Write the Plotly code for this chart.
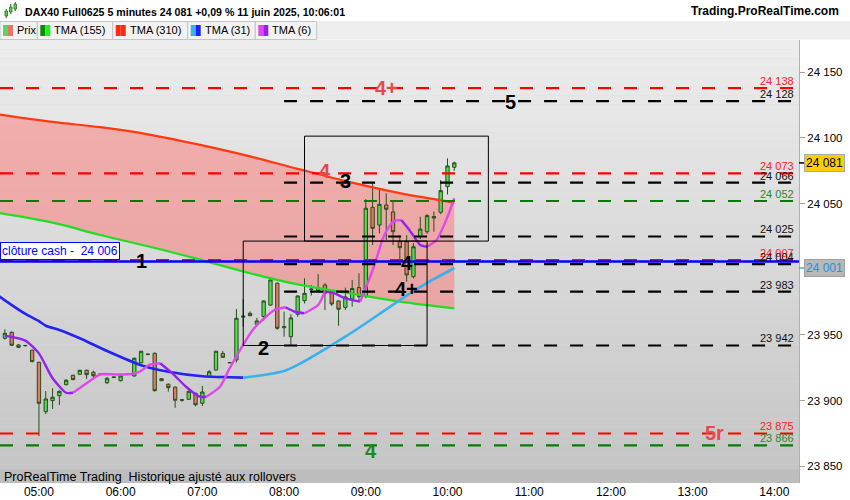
import plotly.graph_objects as go
import pandas as pd

# ---------------- data ----------------
START = "2025-06-11 04:35"
DAY = "2025-06-11 "

opens = [23947.5, 23952.0, 23942.4, 23941.8, 23938.4, 23929.2, 23891.6, 23900.0, 23903.8, 23912.2,
         23919.3, 23920.1, 23923.1, 23921.6, 23919.8, 23913.7, 23917.6, 23915.2, 23919.9, 23918.8,
         23928.9, 23935.1, 23936.1, 23916.7, 23912.5, 23910.3, 23900.7, 23901.0, 23905.6, 23898.0,
         23918.3, 23923.3, 23936.0, 23928.8, 23931.0, 23963.6, 23966.5, 23958.2, 23964.0, 23972.8,
         23989.4, 23955.5, 23948.7, 23965.8, 23976.1, 23984.5, 23984.0, 23988.1, 23983.0, 23975.9,
         23971.0, 23977.4, 23986.1, 23979.2, 24047.2, 24033.7, 24049.0, 24043.7, 24021.0, 24021.0,
         23994.4, 24024.8, 24028.6, 24039.0, 24043.4, 24062.9, 24077.7]
highs = [23954.3, 23952.8, 23943.0, 23942.5, 23938.8, 23929.6, 23907.3, 23909.4, 23907.8, 23916.5,
         23919.7, 23923.5, 23923.6, 23922.8, 23921.0, 23918.0, 23918.2, 23919.2, 23920.4, 23932.8,
         23938.0, 23935.6, 23936.6, 23917.2, 23913.0, 23910.8, 23901.2, 23907.6, 23906.0, 23911.2,
         23923.3, 23938.0, 23937.8, 23929.3, 23969.8, 23977.2, 23968.0, 23963.0, 23976.4, 23992.4,
         23990.0, 23967.8, 23965.8, 23980.2, 23993.2, 23988.0, 23996.5, 23989.4, 23984.0, 23976.3,
         23986.0, 23991.9, 23997.0, 24053.5, 24065.5, 24061.7, 24057.9, 24052.8, 24026.0, 24026.0,
         24020.0, 24040.0, 24042.0, 24044.0, 24068.0, 24084.5, 24082.0]
lows = [23946.5, 23941.5, 23940.0, 23941.3, 23929.2, 23873.0, 23889.8, 23893.7, 23896.7, 23911.6,
        23915.6, 23919.7, 23916.5, 23916.3, 23919.4, 23912.6, 23917.4, 23914.6, 23919.7, 23918.2,
        23928.5, 23934.9, 23907.0, 23914.8, 23906.9, 23894.6, 23899.2, 23900.6, 23895.6, 23895.9,
        23917.8, 23923.0, 23932.6, 23928.6, 23929.0, 23956.3, 23964.2, 23957.5, 23961.0, 23972.2,
        23954.0, 23948.7, 23942.4, 23964.0, 23974.0, 23980.0, 23983.0, 23969.0, 23972.0, 23957.0,
        23969.0, 23971.6, 23975.4, 23978.0, 24018.5, 24027.4, 24022.3, 24018.5, 24004.0, 23990.6,
        23993.0, 24023.0, 24027.0, 24028.6, 24042.0, 24057.0, 24075.0]
closes = [23951.3, 23942.2, 23940.6, 23942.0, 23929.7, 23898.0, 23901.3, 23902.6, 23907.1, 23915.5,
          23916.0, 23923.1, 23919.8, 23919.0, 23920.2, 23917.0, 23918.0, 23918.8, 23920.2, 23932.3,
          23937.6, 23935.4, 23907.6, 23915.2, 23909.9, 23900.3, 23900.4, 23907.1, 23896.9, 23906.6,
          23922.0, 23937.6, 23933.0, 23929.0, 23962.7, 23964.3, 23964.7, 23960.7, 23975.9, 23991.9,
          23955.1, 23956.3, 23963.0, 23979.7, 23981.7, 23985.0, 23986.0, 23981.8, 23973.6, 23969.6,
          23979.0, 23985.4, 23979.2, 24046.5, 24031.2, 24049.5, 24045.7, 24028.6, 24016.5, 23995.7,
          24017.2, 24030.6, 24040.9, 24040.2, 24059.9, 24078.7, 24081.0]

tma155_t = ["04:30", "05:10", "05:45", "06:20", "06:55", "07:35", "08:10", "08:50", "09:25", "10:05"]
tma155_v = [24043.0, 24035.5, 24026.1, 24017.6, 24008.3, 23997.0, 23988.5, 23981.4, 23975.4, 23970.3]
tma310_t = ["04:30", "05:10", "05:45", "06:20", "06:55", "07:35", "08:10", "08:50", "09:25", "10:05"]
tma310_v = [24118.0, 24112.2, 24108.2, 24102.8, 24095.5, 24086.0, 24076.5, 24066.0, 24058.0, 24050.8]
tma31_t = ["04:30", "04:35", "04:50", "05:00", "05:05", "05:15", "05:30", "05:50", "06:15", "06:35",
           "07:00", "07:20", "07:30", "07:45", "08:00", "08:10", "08:45", "09:00", "09:25", "09:45", "10:05"]
tma31_v = [23980.0, 23976.3, 23966.0, 23960.5, 23957.0, 23953.8, 23947.5, 23937.8, 23927.0, 23922.0,
           23918.6, 23917.8, 23917.5, 23919.6, 23922.6, 23927.2, 23948.7, 23958.9, 23976.6, 23989.6, 24001.0]
tma6_t = ["04:35", "04:50", "05:00", "05:10", "05:20", "05:25", "05:35", "05:45", "05:55", "06:05",
          "06:14", "06:21", "06:29", "06:38", "06:48", "06:58", "07:03", "07:13", "07:20", "07:38",
          "07:53", "08:01", "08:08", "08:15", "08:25", "08:30", "08:37", "08:45", "08:56", "09:06",
          "09:13", "09:20", "09:26", "09:32", "09:40", "09:45", "09:52", "10:00", "10:05"]
tma6_v = [23949.5, 23945.7, 23936.0, 23917.0, 23906.0, 23906.0, 23913.2, 23920.0, 23920.0, 23920.0,
          23922.0, 23927.2, 23928.5, 23920.8, 23910.6, 23903.0, 23903.0, 23910.6, 23924.6, 23955.1,
          23969.0, 23971.1, 23967.7, 23966.5, 23972.8, 23983.0, 23981.7, 23977.9, 23975.4, 24002.0,
          24024.8, 24036.3, 24037.5, 24030.0, 24018.5, 24017.2, 24022.3, 24040.0, 24054.1]

level_vals = [24138, 24128, 24073, 24066, 24052, 24025, 24007, 24004, 23983, 23942, 23875, 23866]
level_kind = ["red", "black", "red", "black", "green", "black", "red", "black", "black", "black", "red", "green"]
level_full = [True, False, True, False, True, False, True, False, False, False, True, True]
level_start_partial = "08:00"

cash_value = 24006
last_price = 24081
tma31_last = 24001

rect_t0 = ["08:15", "07:30"]
rect_t1 = ["10:30", "09:45"]
rect_lo = [24021.5, 23942.0]
rect_hi = [24101.4, 24021.5]

mark_text = ["4+", "5", "4", "3", "1", "2", "4", "4+", "5r", "4"]
mark_t = ["09:15", "10:46", "08:30", "08:45", "06:15", "07:45", "09:30", "09:30", "13:16", "09:04"]
mark_v = [24138.4, 24127.4, 24074.9, 24067.2, 24006.3, 23940.0, 24004.8, 23985.0, 23875.0, 23861.5]
mark_kind = ["red", "black", "red", "black", "black", "black", "black", "black", "red", "green"]

hour_labels = ["05:00", "06:00", "07:00", "08:00", "09:00", "10:00", "11:00", "12:00", "13:00", "14:00"]
ytick_vals = [23850, 23900, 23950, 24050, 24100, 24150]

# ---------------- styling helpers ----------------
SANS = "Liberation Sans, Arial, sans-serif"
NARROW = "Liberation Sans Narrow, Arial Narrow, Liberation Sans, sans-serif"
PW, PT, PH = 799.0, 40.0, 443.0
X_RANGE = ["2025-06-11 04:31:24", "2025-06-11 14:18:06"]
Y_RANGE = [23837.3, 24174.6]


def fx(px):
    return px / PW


def fy(py):
    return 1 + (PT - py) / PH


def fmt(v):
    return f"{int(round(v)):,}".replace(",", " ")


def T(hm):
    return DAY + hm


times = pd.date_range(START, periods=len(closes), freq="5min")

fig = go.Figure()

# background gradient
shapes = []
N = 48
for k in range(N):
    c = int(round(196 + (237 - 196) * (k + 0.5) / N))
    shapes.append(dict(type="rect", xref="paper", yref="paper", x0=0, x1=1, y0=k / N, y1=(k + 1) / N,
                       fillcolor=f"rgb({c},{c},{c})", line=dict(width=0), layer="below"))

# pink band between TMA 155 and TMA 310 (bottom subplot, under candles)
fig.add_trace(go.Scatter(x=[T(t) for t in tma155_t], y=tma155_v, mode="lines",
                         line=dict(color="rgba(0,0,0,0)", width=0, shape="spline"), hoverinfo="skip"))
fig.add_trace(go.Scatter(x=[T(t) for t in tma310_t], y=tma310_v, mode="lines",
                         line=dict(color="rgba(0,0,0,0)", width=0, shape="spline"),
                         fill="tonexty", fillcolor="rgba(255,110,110,0.48)", hoverinfo="skip"))

# candles (overlay subplot, above the band)
fig.add_trace(go.Candlestick(x=times, open=opens, high=highs, low=lows, close=closes,
                             increasing=dict(line=dict(color="#24501a", width=1), fillcolor="#55d94f"),
                             decreasing=dict(line=dict(color="#24501a", width=1), fillcolor="#e6766c"),
                             whiskerwidth=0, hoverinfo="skip", xaxis="x2", yaxis="y2"))

fig.add_trace(go.Scatter(x=[T(t) for t in tma155_t], y=tma155_v, mode="lines",
                         line=dict(color="#22dd22", width=2.2, shape="spline"), hoverinfo="skip",
                         xaxis="x2", yaxis="y2"))
fig.add_trace(go.Scatter(x=[T(t) for t in tma310_t], y=tma310_v, mode="lines",
                         line=dict(color="#ff3a10", width=2.2, shape="spline"), hoverinfo="skip",
                         xaxis="x2", yaxis="y2"))


def add_dir_line(ts, vs, up_color, down_color, width):
    segs = []
    cur = [0]
    cur_dir = None
    for k in range(1, len(vs)):
        if vs[k] > vs[k - 1]:
            d = "up"
        elif vs[k] < vs[k - 1]:
            d = "down"
        else:
            d = cur_dir
        if cur_dir is None:
            cur_dir = d
        if d != cur_dir:
            segs.append((cur, cur_dir))
            cur = [k - 1]
            cur_dir = d
        cur.append(k)
    segs.append((cur, cur_dir))
    for idx, d in segs:
        fig.add_trace(go.Scatter(x=[T(ts[i]) for i in idx], y=[vs[i] for i in idx], mode="lines",
                                 line=dict(color=up_color if d == "up" else down_color, width=width,
                                           shape="spline", smoothing=0.6),
                                 hoverinfo="skip", xaxis="x2", yaxis="y2"))


add_dir_line(tma31_t, tma31_v, "#3cb0ee", "#2424f0", 2.6)
add_dir_line(tma6_t, tma6_v, "#e048ee", "#9222ee", 2.4)

# horizontal levels
col_line = {"red": "#ff0000", "black": "#000000", "green": "#0a7a0a"}
col_text = {"red": "#ff2222", "black": "#111111", "green": "#2a8a2a"}
annotations = []
for v, kind, full in zip(level_vals, level_kind, level_full):
    if full:
        shapes.append(dict(type="line", xref="paper", yref="y", x0=0, x1=1, y0=v, y1=v,
                           line=dict(color=col_line[kind], width=2.2, dash="13px,13px")))
    else:
        shapes.append(dict(type="line", xref="x", yref="y", x0=T(level_start_partial), x1=X_RANGE[1], y0=v, y1=v,
                           line=dict(color=col_line[kind], width=2.2, dash="13px,13px")))
    annotations.append(dict(xref="paper", yref="y", x=fx(796), y=v, xanchor="right", yanchor="bottom", yshift=-1,
                            text=fmt(v), showarrow=False, font=dict(family=SANS, size=11, color=col_text[kind])))

# cash close line
shapes.append(dict(type="line", xref="paper", yref="y", x0=0, x1=1, y0=cash_value, y1=cash_value,
                   line=dict(color="#0000ff", width=2.6)))
annotations.append(dict(xref="paper", yref="y", x=0, y=cash_value, xanchor="left", yanchor="bottom", yshift=1,
                        text="clôture cash -\u00a0 " + fmt(cash_value), showarrow=False, bgcolor="white",
                        bordercolor="#0000ff", borderwidth=1, borderpad=1,
                        font=dict(family=SANS, size=12, color="#0000ff")))

# rectangles
for t0, t1, lo, hi in zip(rect_t0, rect_t1, rect_lo, rect_hi):
    shapes.append(dict(type="rect", xref="x", yref="y", x0=T(t0), x1=T(t1), y0=lo, y1=hi,
                       line=dict(color="black", width=1), fillcolor="rgba(0,0,0,0)"))

# text marks
col_mark = {"red": "#e8484c", "black": "#000000", "green": "#1a8a1a"}
for txt, t, v, kind in zip(mark_text, mark_t, mark_v, mark_kind):
    annotations.append(dict(xref="x", yref="y", x=T(t), y=v, text="<b>" + txt + "</b>", showarrow=False,
                            xanchor="center", yanchor="middle", font=dict(family=SANS, size=20, color=col_mark[kind])))

# right-axis price boxes
annotations.append(dict(xref="paper", yref="y", x=1, y=last_price, xanchor="left", xshift=5, text=fmt(last_price),
                        showarrow=False, bgcolor="#ffcc00", bordercolor="#aaaaaa", borderwidth=1, borderpad=1,
                        font=dict(family=SANS, size=12, color="black")))
annotations.append(dict(xref="paper", yref="y", x=1, y=tma31_last, xanchor="left", xshift=5, text=fmt(tma31_last),
                        showarrow=False, bgcolor="#b8b8b8", bordercolor="#a0a0a0", borderwidth=1, borderpad=1,
                        font=dict(family=SANS, size=12, color="#2a90d8")))
shapes.append(dict(type="line", xref="paper", yref="y", x0=1, x1=fx(805), y0=last_price, y1=last_price,
                   line=dict(color="black", width=1.5)))
shapes.append(dict(type="line", xref="paper", yref="y", x0=1, x1=fx(805), y0=tma31_last, y1=tma31_last,
                   line=dict(color="#3cb0ee", width=1.5)))

# footer bar
shapes.append(dict(type="rect", xref="paper", yref="paper", x0=0, x1=1, y0=0, y1=13 / PH,
                   fillcolor="#bdbdbd", line=dict(width=0)))
annotations.append(dict(xref="paper", yref="paper", x=fx(2), y=6.5 / PH, xanchor="left", yanchor="middle",
                        text="ProRealTime Trading\u00a0 Historique ajusté aux rollovers", showarrow=False,
                        font=dict(family=NARROW, size=12.5, color="black")))

# title row
annotations.append(dict(xref="paper", yref="paper", x=fx(23), y=fy(12), xanchor="left", yanchor="middle",
                        text="<b>DAX40 Full0625 5 minutes 24 081 +0,09 % 11 juin 2025, 10:06:01</b>", showarrow=False,
                        font=dict(family=SANS, size=10.6, color="black")))
annotations.append(dict(xref="paper", yref="paper", x=fx(841), y=fy(11), xanchor="right", yanchor="middle",
                        text="<b>Trading.ProRealTime.com</b>", showarrow=False,
                        font=dict(family=SANS, size=12, color="black")))
# small icon (three mini candles)
for (a, b, c, d, w0, w1) in [(5, 7.5, 11, 16, 9, 18), (9.5, 12, 7, 12, 4, 14), (14, 16.5, 4, 9, 2, 11)]:
    shapes.append(dict(type="line", xref="paper", yref="paper", x0=fx((a + b) / 2), x1=fx((a + b) / 2), y0=fy(w0), y1=fy(w1),
                       line=dict(color="#2a6a1a", width=1)))
    shapes.append(dict(type="rect", xref="paper", yref="paper", x0=fx(a), x1=fx(b), y0=fy(c), y1=fy(d),
                       fillcolor="#55d94f", line=dict(color="#2a6a1a", width=0.8)))

# legend row
shapes.append(dict(type="rect", xref="paper", yref="paper", x0=0, x1=fx(850), y0=fy(39.5), y1=fy(21),
                   fillcolor="#eeeeee", line=dict(width=0)))
leg_items = [("Prix", 0, 37.3, ("#5cd65a", "#e6766c")),
             ("TMA (155)", 37.3, 112.7, ("#0a8a0a", "#22ee22")),
             ("TMA (310)", 112.7, 187.7, ("#ff2a10", "#ff2a10")),
             ("TMA (31)", 187.7, 255.3, ("#3cb0ee", "#2020ff")),
             ("TMA (6)", 255.3, 316.7, ("#e048ee", "#9222ee"))]
for name, x0, x1, (c1, c2) in leg_items:
    shapes.append(dict(type="rect", xref="paper", yref="paper", x0=fx(x0), x1=fx(x1), y0=fy(39.5), y1=fy(21.5),
                       fillcolor="#f2f2f2", line=dict(color="#c4c4c4", width=1)))
    shapes.append(dict(type="rect", xref="paper", yref="paper", x0=fx(x0 + 3), x1=fx(x0 + 8), y0=fy(36), y1=fy(25),
                       fillcolor=c1, line=dict(width=0)))
    shapes.append(dict(type="rect", xref="paper", yref="paper", x0=fx(x0 + 8), x1=fx(x0 + 13), y0=fy(36), y1=fy(25),
                       fillcolor=c2, line=dict(width=0)))
    annotations.append(dict(xref="paper", yref="paper", x=fx(x0 + 15), y=fy(30.5), xanchor="left", yanchor="middle",
                            text=name, showarrow=False, font=dict(family=SANS, size=11, color="black")))

fig.update_layout(
    width=850, height=500,
    margin=dict(l=0, r=51, t=40, b=17),
    paper_bgcolor="white", plot_bgcolor="#d8d8d8",
    showlegend=False,
    shapes=shapes, annotations=annotations,
    font=dict(family=SANS, size=11, color="black"),
    xaxis=dict(type="date", range=X_RANGE,
               tickvals=[T(h) for h in hour_labels], ticktext=hour_labels,
               showgrid=False, zeroline=False, ticks="", showline=False,
               rangeslider=dict(visible=False), fixedrange=True,
               tickfont=dict(family=NARROW, size=12, color="black")),
    yaxis=dict(side="right", range=Y_RANGE, tickvals=ytick_vals, ticktext=[fmt(v) for v in ytick_vals],
               showgrid=False, zeroline=False, ticks="outside", ticklen=5, tickcolor="#a0a0a0",
               showline=True, linecolor="#b0b0b0", fixedrange=True,
               tickfont=dict(family=SANS, size=11.5, color="black")),
    xaxis2=dict(type="date", range=X_RANGE, overlaying="x", visible=False, showgrid=False, zeroline=False,
                rangeslider=dict(visible=False), fixedrange=True),
    yaxis2=dict(range=Y_RANGE, overlaying="y", side="right", visible=False, showgrid=False, zeroline=False,
                fixedrange=True),
)

fig.write_html("out.html", config={"displayModeBar": False},
               post_script="document.body.style.margin='0';document.body.style.padding='0';")
